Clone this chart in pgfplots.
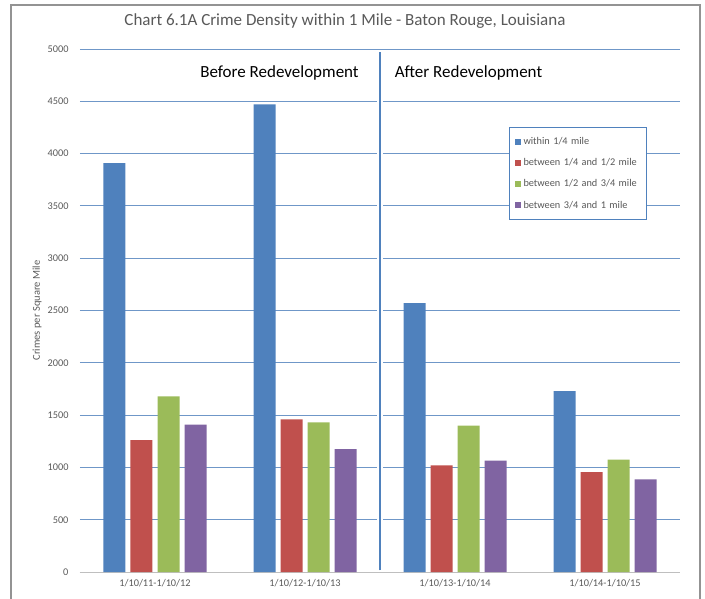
\documentclass[border=0pt]{standalone}
\usepackage{pgfplots}
\pgfplotsset{compat=1.18}
\usepackage{fontspec}
\setmainfont{Carlito}

\definecolor{xblue}{HTML}{4F81BD}
\definecolor{xred}{HTML}{C0504D}
\definecolor{xgreen}{HTML}{9BBB59}
\definecolor{xpurple}{HTML}{8064A2}
\definecolor{gridblue}{HTML}{6F97C8}
\definecolor{txtgray}{HTML}{595959}

\begin{document}
\begin{tikzpicture}
\useasboundingbox (0pt,0pt) rectangle (705pt,598pt);
\draw[gray!85, line width=1.3pt] (11pt,-10pt) rectangle (700pt,593pt);
\node[txtgray, font=\fontsize{17}{19}\selectfont] at (345pt,577pt) {Chart 6.1A Crime Density within 1 Mile - Baton Rouge, Louisiana};
\begin{axis}[
    at={(80pt,26pt)}, anchor=south west,
    scale only axis,
    width=600pt, height=523pt,
    ybar=5pt, bar width=22pt,
    xmin=-0.5, xmax=3.5,
    ymin=0, ymax=5000,
    ytick={0,500,...,5000},
    xtick=data,
    xticklabels={1/10/11-1/10/12,1/10/12-1/10/13,1/10/13-1/10/14,1/10/14-1/10/15},
    major tick length=0pt,
    axis x line*=bottom,
    axis y line*=left,
    y axis line style={draw=none},
    x axis line style={gray!50, line width=0.8pt},
    ymajorgrids=true,
    grid style={gridblue, line width=1pt},
    /pgf/number format/assume math mode=true,
    /pgf/number format/1000 sep={},
    ticklabel style={txtgray, font=\fontsize{10.3}{12}\selectfont},
    yticklabel style={xshift=-8pt},
    xticklabel style={yshift=-4pt},
    ylabel={Crimes per Square Mile},
    every axis y label/.style={at={(-43pt,0.5)}, rotate=90, anchor=center,
        txtgray, font=\fontsize{10.5}{12}\selectfont},
    legend style={at={(0.715,0.851)}, anchor=north west, draw=xblue, line width=1pt,
        font=\fontsize{10.3}{12}\selectfont, text=txtgray,
        inner xsep=5pt, inner ysep=8pt, row sep=8.5pt, column sep=1pt,
        text width=116pt, cells={anchor=west}},
    legend image code/.code={\fill[#1] (0pt,-3pt) rectangle (6pt,3pt);},
]
\addplot[fill=xblue, draw=none] coordinates {(0,3910) (1,4470) (2,2570) (3,1730)};
\addplot[fill=xred, draw=none] coordinates {(0,1260) (1,1460) (2,1020) (3,955)};
\addplot[fill=xgreen, draw=none] coordinates {(0,1680) (1,1430) (2,1400) (3,1075)};
\addplot[fill=xpurple, draw=none] coordinates {(0,1410) (1,1175) (2,1065) (3,885)};
\legend{within 1/4 mile, between 1/4 and 1/2 mile, between 1/2 and 3/4 mile, between 3/4 and 1 mile}
\draw[white, line width=6pt] (axis cs:1.5,15) -- (axis cs:1.5,4975);
\draw[xblue, line width=2pt] (axis cs:1.5,15) -- (axis cs:1.5,4975);
\node[font=\fontsize{17}{19}\selectfont] at (axis cs:0.83,4770) {Before Redevelopment};
\node[font=\fontsize{17}{19}\selectfont] at (axis cs:2.09,4770) {After Redevelopment};
\end{axis}
\end{tikzpicture}
\end{document}
